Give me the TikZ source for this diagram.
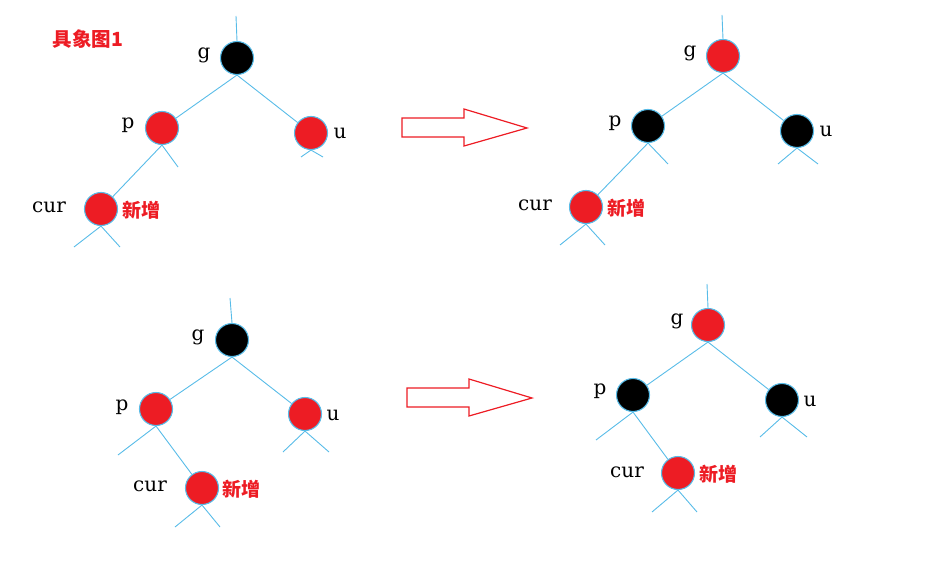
\documentclass[tikz,border=0pt]{standalone}
\usepackage{fontspec}
\setmainfont{DejaVu Serif}
\newfontfamily\cjk{Noto Sans CJK SC}
\usepackage{tikz}
\usetikzlibrary{positioning}
\definecolor{nodeRed}{RGB}{237,28,36}
\definecolor{edgeBlue}{RGB}{88,188,232}

\begin{document}
\begin{tikzpicture}[x=1pt, y=-1pt,
    rb/.style={circle, draw=edgeBlue, line width=1.1pt, minimum size=33pt, inner sep=0pt},
    red node/.style={rb, fill=nodeRed},
    black node/.style={rb, fill=black},
    edge/.style={edgeBlue, line width=0.9pt},
    name tag/.style={font=\fontsize{20}{20}\selectfont, inner sep=0pt},
    new tag/.style={font=\cjk\bfseries\fontsize{19}{19}\selectfont, text=nodeRed, inner sep=0pt},
    flow/.style={draw=nodeRed, line width=1.2pt}]
  \useasboundingbox (0,0) rectangle (926,567);
  \node[font=\cjk\bfseries\fontsize{19.5}{19.5}\selectfont, text=nodeRed] (title) at (88,39) {具象图1};

  % tree 1: before
  \node[black node] (g1) at (237,58) {};
  \node[red node] (p1) at (162,128) {};
  \node[red node] (u1) at (311,133) {};
  \node[red node] (c1) at (101,209) {};
  \coordinate (top1) at (236,16);
  \coordinate (p1r) at (178,167);
  \coordinate (u1l) at (301,157);
  \coordinate (u1r) at (323,157);
  \coordinate (c1l) at (74,247);
  \coordinate (c1r) at (120,247);
  \draw[edge] (top1) -- (g1.north);
  \draw[edge] (g1.south) -- (p1);
  \draw[edge] (g1.south) -- (u1);
  \draw[edge] (p1.south) -- (c1);
  \draw[edge] (p1.south) -- (p1r);
  \draw[edge] (u1.south) -- (u1l);
  \draw[edge] (u1.south) -- (u1r);
  \draw[edge] (c1.south) -- (c1l);
  \draw[edge] (c1.south) -- (c1r);
  \node[name tag] (g1t) at (204,55) {g};
  \node[name tag] (p1t) at (128,125) {p};
  \node[name tag] (u1t) at (340,133) {u};
  \node[name tag] (c1t) at (49,207) {cur};
  \node[new tag] (n1t) at (141,210) {新增};

  % tree 2: after
  \node[red node] (g2) at (723,56) {};
  \node[black node] (p2) at (648,126) {};
  \node[black node] (u2) at (797,131) {};
  \node[red node] (c2) at (586,207) {};
  \coordinate (top2) at (722,15);
  \coordinate (p2r) at (668,164);
  \coordinate (u2l) at (778,164);
  \coordinate (u2r) at (818,164);
  \coordinate (c2l) at (560,245);
  \coordinate (c2r) at (605,245);
  \draw[edge] (top2) -- (g2.north);
  \draw[edge] (g2.south) -- (p2);
  \draw[edge] (g2.south) -- (u2);
  \draw[edge] (p2.south) -- (c2);
  \draw[edge] (p2.south) -- (p2r);
  \draw[edge] (u2.south) -- (u2l);
  \draw[edge] (u2.south) -- (u2r);
  \draw[edge] (c2.south) -- (c2l);
  \draw[edge] (c2.south) -- (c2r);
  \node[name tag] (g2t) at (690,53) {g};
  \node[name tag] (p2t) at (615,123) {p};
  \node[name tag] (u2t) at (826,131) {u};
  \node[name tag] (c2t) at (535,205) {cur};
  \node[new tag] (n2t) at (626,208) {新增};

  % tree 3: before
  \node[black node] (g3) at (232,340) {};
  \node[red node] (p3) at (156,409) {};
  \node[red node] (u3) at (305,414) {};
  \node[red node] (c3) at (202,488) {};
  \coordinate (top3) at (230,298);
  \coordinate (p3l) at (118,455);
  \coordinate (u3l) at (283,452);
  \coordinate (u3r) at (329,452);
  \coordinate (c3l) at (175,527);
  \coordinate (c3r) at (220,527);
  \draw[edge] (top3) -- (g3.north);
  \draw[edge] (g3.south) -- (p3);
  \draw[edge] (g3.south) -- (u3);
  \draw[edge] (p3.south) -- (c3);
  \draw[edge] (p3.south) -- (p3l);
  \draw[edge] (u3.south) -- (u3l);
  \draw[edge] (u3.south) -- (u3r);
  \draw[edge] (c3.south) -- (c3l);
  \draw[edge] (c3.south) -- (c3r);
  \node[name tag] (g3t) at (198,337) {g};
  \node[name tag] (p3t) at (122,407) {p};
  \node[name tag] (u3t) at (333,415) {u};
  \node[name tag] (c3t) at (150,486) {cur};
  \node[new tag] (n3t) at (241,489) {新增};

  % tree 4: after
  \node[red node] (g4) at (708,325) {};
  \node[black node] (p4) at (633,395) {};
  \node[black node] (u4) at (782,400) {};
  \node[red node] (c4) at (678,473) {};
  \coordinate (top4) at (707,284);
  \coordinate (p4l) at (596,440);
  \coordinate (u4l) at (760,437);
  \coordinate (u4r) at (807,437);
  \coordinate (c4l) at (652,512);
  \coordinate (c4r) at (697,512);
  \draw[edge] (top4) -- (g4.north);
  \draw[edge] (g4.south) -- (p4);
  \draw[edge] (g4.south) -- (u4);
  \draw[edge] (p4.south) -- (c4);
  \draw[edge] (p4.south) -- (p4l);
  \draw[edge] (u4.south) -- (u4l);
  \draw[edge] (u4.south) -- (u4r);
  \draw[edge] (c4.south) -- (c4l);
  \draw[edge] (c4.south) -- (c4r);
  \node[name tag] (g4t) at (677,321) {g};
  \node[name tag] (p4t) at (600,391) {p};
  \node[name tag] (u4t) at (810,401) {u};
  \node[name tag] (c4t) at (627,472) {cur};
  \node[new tag] (n4t) at (718,474) {新增};

  % hollow arrows
  \draw[flow] (402,118) -- (464,118) -- (464,109) -- (527,128) -- (464,146)
    -- (464,137) -- (402,137) -- cycle;
  \draw[flow] (407,388) -- (469,388) -- (469,379) -- (532,398) -- (469,416)
    -- (469,407) -- (407,407) -- cycle;
\end{tikzpicture}
\end{document}
